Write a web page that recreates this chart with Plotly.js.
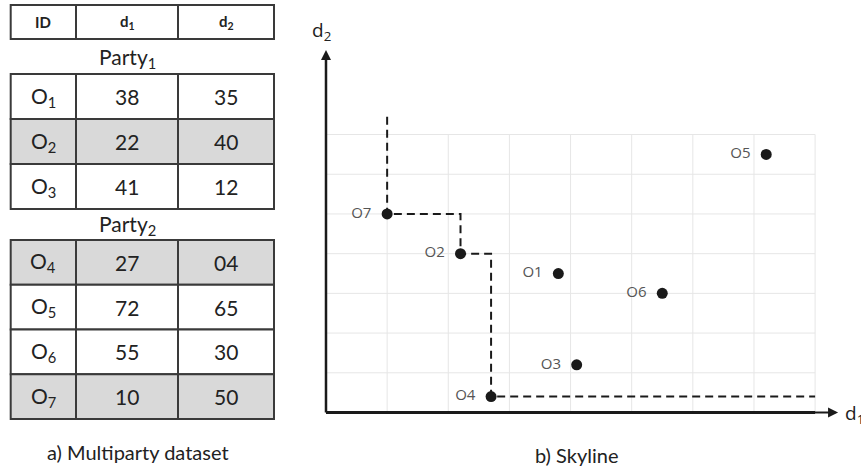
<!DOCTYPE html>
<html><head><meta charset="utf-8">
<script src="https://cdn.plot.ly/plotly-3.0.1.min.js"></script>
<style>html,body{margin:0;padding:0;background:#fff}#chart{width:861px;height:469px}</style>
</head><body><div id="chart"></div>
<script>
// ---- data ----
const ids = ['O1','O2','O3','O4','O5','O6','O7'];
const idLabels = ['O<sub>1</sub>','O<sub>2</sub>','O<sub>3</sub>','O<sub>4</sub>','O<sub>5</sub>','O<sub>6</sub>','O<sub>7</sub>'];
const d1 = [38,22,41,27,72,55,10];
const d2 = [35,40,12,4,65,30,50];
const d2Text = ['35','40','12','04','65','30','50'];
const party = [1,1,1,2,2,2,2];
const shaded = ['O2','O4','O7'];
const skylineIds = ['O7','O2','O4'];
const headerLabels = ['<b>ID</b>','<b>d<sub>1</sub></b>','<b>d<sub>2</sub></b>'];
const partyLabels = ['Party<sub>1</sub>','Party<sub>2</sub>'];
const xGrid = [10,20,30,40,50,60,70,80];
const yGrid = [10,20,30,40,50,60,70];
const gridMaxX = 80, gridMaxY = 70;
const skyCapY = 74.5, skyCapX = 80;
const axisTipX = 83.75, axisTipY = 91.3;

// ---- geometry helpers ----
const W = 861, H = 469;
const fx = p => p / W, fy = p => 1 - p / H;
const x0px = 326, y0px = 412.5, kx = 6.114, ky = 3.971, pad = 3;

// ---- skyline path ----
const sky = skylineIds.map(id => ids.indexOf(id)).sort((a,b)=>d1[a]-d1[b]);
const sx = [d1[sky[0]]], sy = [skyCapY];
sky.forEach((i, k) => {
  if (k > 0) { sx.push(d1[i]); sy.push(d2[sky[k-1]]); }
  sx.push(d1[i]); sy.push(d2[i]);
});
sx.push(skyCapX); sy.push(d2[sky[sky.length-1]]);

const traces = [];
traces.push({type:'scatter', mode:'lines', x:sx, y:sy, hoverinfo:'skip',
  line:{color:'#1a1a1a', width:2, dash:'8px,5px'}});
traces.push({type:'scatter', mode:'markers+text', x:d1, y:d2, text:ids.map(s=>s+'  '),
  textposition:'middle left', cliponaxis:false,
  marker:{size:11, color:'#1a1a1a'},
  textfont:{family:'Open Sans', size:15, color:'#555'}});

// ---- table drawn with shapes + annotations ----
const shapes = [];
const annotations = [];
const lineColor = '#3a3a3a';
const colEdges = [10.7, 76, 178, 274];
function cellRow(top, bottom, texts, fill, font) {
  for (let c = 0; c < 3; c++) {
    shapes.push({type:'rect', xref:'paper', yref:'paper',
      x0:fx(colEdges[c]), x1:fx(colEdges[c+1]), y0:fy(bottom), y1:fy(top),
      fillcolor:fill, line:{color:lineColor, width:2}, layer:'above'});
    annotations.push({text:texts[c], xref:'paper', yref:'paper',
      x:fx((colEdges[c]+colEdges[c+1])/2), y:fy((top+bottom)/2),
      xanchor:'center', yanchor:'middle', showarrow:false, font:font});
  }
}
const cellFont = {family:'Lato', size:21, color:'#222'};
cellRow(5, 39, headerLabels, '#ffffff', {family:'Lato', size:15, color:'#222'});
const partyBox = [[74,209],[240,419]];
const partyLabelY = [58, 225];
[1,2].forEach((p, k) => {
  const idx = party.map((v,i)=>v===p?i:-1).filter(i=>i>=0);
  const rowH = (partyBox[k][1]-partyBox[k][0]) / idx.length;
  annotations.push({text:partyLabels[k], xref:'paper', yref:'paper',
    x:fx((colEdges[1]+colEdges[2])/2), y:fy(partyLabelY[k]), xanchor:'center', yanchor:'middle',
    showarrow:false, font:{family:'Lato', size:21, color:'#222'}});
  idx.forEach((i, r) => {
    const top = partyBox[k][0] + r*rowH;
    cellRow(top, top+rowH, [idLabels[i], String(d1[i]), d2Text[i]],
      shaded.includes(ids[i]) ? '#d9d9d9' : '#ffffff', cellFont);
  });
});

// ---- grid + axis lines ----
xGrid.forEach(g => shapes.push({type:'line', xref:'x', yref:'y', x0:g, x1:g, y0:0, y1:gridMaxY, layer:'below', line:{color:'#e6e6e6', width:1}}));
yGrid.forEach(g => shapes.push({type:'line', xref:'x', yref:'y', x0:0, x1:gridMaxX, y0:g, y1:g, layer:'below', line:{color:'#e6e6e6', width:1}}));
shapes.push({type:'line', xref:'x', yref:'y', x0:0, x1:gridMaxX, y0:0, y1:0, line:{color:'#1a1a1a', width:3}});
shapes.push({type:'line', xref:'x', yref:'y', x0:0, x1:0, y0:0, y1:axisTipY-2, line:{color:'#1a1a1a', width:2.5}});

annotations.push(
  {x:0, y:axisTipY, ax:0, ay:0, xref:'x', yref:'y', axref:'x', ayref:'y', showarrow:true, arrowhead:2, arrowsize:1, arrowwidth:2, arrowcolor:'#1a1a1a'},
  {x:axisTipX, y:0, ax:0, ay:0, xref:'x', yref:'y', axref:'x', ayref:'y', showarrow:true, arrowhead:2, arrowsize:1, arrowwidth:2, arrowcolor:'#1a1a1a'},
  {text:'d<sub>2</sub>', x:fx(321), y:fy(31), xref:'paper', yref:'paper', xanchor:'center', yanchor:'middle', showarrow:false, font:{family:'Open Sans', size:19, color:'#222'}},
  {text:'d<sub>1</sub>', x:fx(843), y:fy(414), xref:'paper', yref:'paper', xanchor:'left', yanchor:'middle', showarrow:false, font:{family:'Open Sans', size:19, color:'#222'}},
  {text:'a) Multiparty dataset', x:fx(138), y:fy(452), xref:'paper', yref:'paper', xanchor:'center', yanchor:'middle', showarrow:false, font:{family:'Lato', size:20, color:'#222'}},
  {text:'b) Skyline', x:fx(576), y:fy(455), xref:'paper', yref:'paper', xanchor:'center', yanchor:'middle', showarrow:false, font:{family:'Lato', size:20, color:'#222'}}
);

const hidden = {showgrid:false, zeroline:false, showticklabels:false, ticks:'', showline:false, fixedrange:true};
const layout = {
  width:W, height:H, margin:{l:0,r:0,t:0,b:0}, showlegend:false,
  paper_bgcolor:'#fff', plot_bgcolor:'rgba(0,0,0,0)',
  xaxis:Object.assign({domain:[fx(x0px - pad*kx), fx(x0px + axisTipX*kx)], range:[-pad, axisTipX]}, hidden),
  yaxis:Object.assign({domain:[fy(y0px + pad*ky), fy(y0px - axisTipY*ky)], range:[-pad, axisTipY]}, hidden),
  shapes, annotations
};
Plotly.newPlot('chart', traces, layout, {displayModeBar:false, staticPlot:true});
</script></body></html>
